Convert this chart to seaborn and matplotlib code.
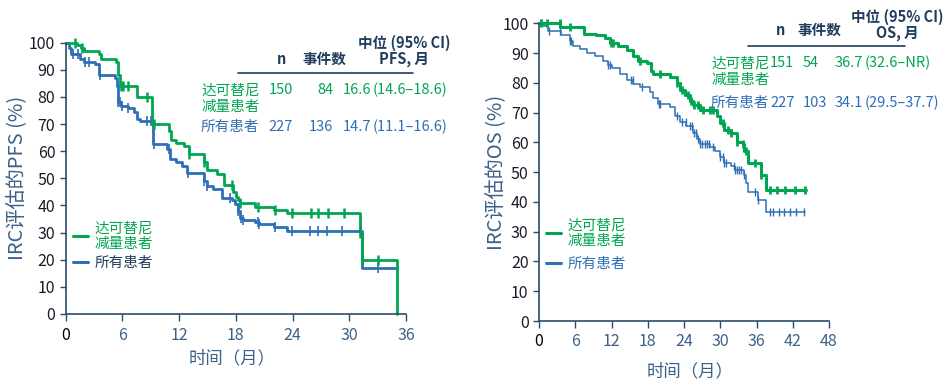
import numpy as np
import pandas as pd
import matplotlib
matplotlib.use("Agg")
import matplotlib.pyplot as plt
from matplotlib.lines import Line2D
import seaborn as sns

sns.set_theme(style="ticks")
plt.rcParams['font.family'] = ['Noto Sans CJK SC', 'DejaVu Sans']

GREEN = '#00A651'
BLUE = '#2E6FB7'
NAVY = '#1F3D5C'
AXC = '#2B4C6B'
SLATE = '#3B6189'

# ---------------- PFS (left) ----------------
pfs_g_t = [0, 1.2, 1.6, 1.9, 3.5, 3.7, 5.3, 5.5, 5.7, 7.5, 9.1, 10.9, 11.1, 11.7, 12.5, 13.0,
           14.6, 14.9, 16.0, 16.7, 17.7, 18.0, 18.2, 18.4, 20.0, 22.0, 23.4, 31.1, 31.3, 35.1]
pfs_g_s = [100, 99, 98, 97, 96, 94, 93, 88, 84, 80, 70, 67.5, 64, 63, 62, 59,
           56, 53, 51.5, 47.5, 45, 43, 42, 41, 39.6, 38.4, 37.4, 30, 20, 0]
pfs_g_cens = [1.0, 1.7, 5.8, 6.1, 6.6, 8.6, 9.3, 13.05, 14.6, 17.6, 18.4, 20.3, 22.1, 23.9,
              25.9, 26.7, 27.8, 29.4, 31.1, 31.3, 33.0]

pfs_b_t = [0, 0.3, 0.6, 1.5, 1.9, 3.1, 3.5, 5.2, 5.4, 5.5, 5.9, 6.6, 7.2, 7.5, 7.9, 9.2, 10.7,
           11.0, 11.7, 12.3, 12.8, 14.6, 14.9, 15.6, 16.5, 17.6, 17.9, 18.2, 18.4, 18.8, 20.0,
           20.4, 22.0, 23.4, 31.3, 35.1]
pfs_b_s = [100, 98, 96, 94, 93, 92, 88, 87, 84, 78, 76.7, 76, 74.5, 72, 71, 62.7, 61,
           57, 56, 54.5, 52, 49, 47, 46, 42.7, 42, 40.5, 38, 35.5, 34.5, 34,
           33, 32, 30.7, 16.8, 16.8]
pfs_b_cens = [0.8, 1.3, 2.0, 2.5, 3.6, 5.5, 5.7, 6.0, 6.6, 8.6, 9.0, 9.3, 10.9, 12.9, 14.6,
              15.0, 17.4, 18.2, 18.5, 18.8, 20.3, 20.5, 22.1, 23.9, 25.8, 26.7, 27.6, 29.2,
              31.2, 33.0]

# ---------------- OS (right) ----------------
os_g_t = [0, 3.5, 7.5, 9.5, 10.9, 11.7, 13.1, 14.5, 15.6, 16.4, 17.8, 18.6, 18.9, 21.7, 22.8,
          23.3, 24.1, 25.0, 25.5, 26.6, 29.4, 29.9, 30.7, 31.8, 32.7, 33.8, 34.0, 34.6, 36.8,
          37.6, 44.2]
os_g_s = [100, 98.7, 96.5, 96, 95, 93.5, 92.5, 91, 89, 87.5, 86.5, 84, 83, 82, 80,
          77.5, 76, 74, 72.5, 71, 69, 66.5, 64, 63, 60, 59.5, 57, 53, 49,
          44, 44]
os_g_cens = [0.4, 1.3, 3.4, 5.1, 11.9, 12.2, 16.7, 20.0, 22.8, 23.6, 24.7, 25.2, 25.7, 26.3,
             27.2, 28.3, 28.8, 30.5, 31.3, 31.8, 32.7, 33.8, 34.3, 35.7, 36.8, 38.2, 39.4,
             40.7, 42.3, 44.1]

os_b_t = [0, 0.4, 1.5, 3.7, 5.1, 5.7, 6.8, 7.9, 9.3, 10.6, 11.5, 12.0, 13.4, 14.5, 15.6, 16.7,
          18.3, 18.9, 19.7, 21.7, 22.5, 23.3, 24.4, 25.5, 26.1, 26.6, 28.3, 29.1, 29.9, 30.7,
          31.8, 32.4, 34.0, 34.3, 34.6, 36.3, 37.5, 44.0]
os_b_s = [100, 99, 97.5, 96, 94, 92.5, 91.5, 90, 89, 87.5, 86, 85, 83, 81, 79.5, 78.5,
          77, 75, 73, 72, 69, 67, 65.5, 63, 61, 59.5, 58.5, 57, 55, 53,
          52, 50.7, 49, 46.5, 43.5, 40.5, 36.5, 36.5]
os_b_cens = [0.3, 1.6, 3.4, 5.1, 5.3, 11.5, 11.7, 15.2, 15.5, 17.0, 19.8, 20.0, 22.9, 23.6,
             24.3, 25.0, 25.3, 25.6, 26.0, 26.3, 26.7, 27.0, 27.4, 27.8, 28.2, 28.8, 30.0,
             30.4, 30.7, 31.0, 32.2, 32.5, 32.8, 33.1, 33.5, 34.0, 35.8, 36.3, 38.2, 38.8,
             39.7, 40.6, 41.6, 42.5, 43.9]

pfs_xticks = [0, 6, 12, 18, 24, 30, 36]
os_xticks = [0, 6, 12, 18, 24, 30, 36, 42, 48]
yticks = [0, 10, 20, 30, 40, 50, 60, 70, 80, 90, 100]

pfs_rows = [["达可替尼", "150", "84", "16.6", "(14.6–18.6)"],
            ["所有患者", "227", "136", "14.7", "(11.1–16.6)"]]
os_rows = [["达可替尼", "151", "54", "36.7", "(32.6–NR)"],
           ["所有患者", "227", "103", "34.1", "(29.5–37.7)"]]

W, H = 950, 384
fig = plt.figure(figsize=(W / 100, H / 100), dpi=100)


def px(x, y):
    return x / W, 1 - y / H


ax1 = fig.add_axes([65.7 / W, 1 - 314 / H, (406 - 65.7) / W, (314 - 42.7) / H])
ax2 = fig.add_axes([539 / W, 1 - 321 / H, (829 - 539) / W, (321 - 23.3) / H])


def surv_at(t, s, c):
    t = np.asarray(t); s = np.asarray(s)
    idx = np.searchsorted(t, np.asarray(c), side='right') - 1
    return s[idx]


def km(ax, t, s, cens, color, lw, mew, ms):
    df = pd.DataFrame({'t': t, 's': s})
    sns.lineplot(data=df, x='t', y='s', drawstyle='steps-post', estimator=None, sort=False,
                 color=color, linewidth=lw, ax=ax, clip_on=False)
    dc = pd.DataFrame({'t': cens, 's': surv_at(t, s, cens)})
    sns.scatterplot(data=dc, x='t', y='s', marker='|', s=ms, color=color, linewidth=mew,
                    ax=ax, clip_on=False, zorder=4)


km(ax1, pfs_b_t, pfs_b_s, pfs_b_cens, BLUE, 2.0, 1.2, 45)
km(ax1, pfs_g_t, pfs_g_s, pfs_g_cens, GREEN, 2.0, 1.8, 45)
km(ax2, os_b_t, os_b_s, os_b_cens, BLUE, 1.1, 1.0, 40)
km(ax2, os_g_t, os_g_s, os_g_cens, GREEN, 2.2, 2.0, 40)

for ax, xt, ylab, ylc, xlc in [(ax1, pfs_xticks, "IRC评估的PFS (%)", (-0.112, 0.5), (0.49, -0.132)),
                               (ax2, os_xticks, "IRC评估的OS (%)", (-0.115, 0.5), (0.52, -0.14))]:
    ax.set_xlim(xt[0], xt[-1])
    ax.set_ylim(0, 100)
    ax.set_xticks(xt)
    ax.set_yticks(yticks)
    ax.set_xticklabels([str(v) for v in xt])
    ax.set_yticklabels([str(v) for v in yticks])
    sns.despine(ax=ax)
    for sp in ['left', 'bottom']:
        ax.spines[sp].set_color(AXC)
        ax.spines[sp].set_linewidth(1.2)
    ax.tick_params(axis='both', colors=AXC, length=4, width=1.0, labelsize=11.5)
    ax.tick_params(axis='x', length=5, pad=4)
    for lab in ax.get_xticklabels()[1:]:
        lab.set_color(SLATE)
    ax.get_xticklabels()[0].set_color('black')
    for lab in ax.get_yticklabels():
        lab.set_color('#1a1a2a')
    ax.set_ylabel(ylab, fontsize=14.5, color=SLATE)
    ax.yaxis.set_label_coords(*ylc)
    ax.set_xlabel("时间（月）", fontsize=12.5, color=SLATE)
    ax.xaxis.set_label_coords(*xlc)

# legends
def legend(ax, anchor, sp, col2):
    h = [Line2D([], [], color=GREEN, lw=2.2), Line2D([], [], color=BLUE, lw=2.2)]
    lg = ax.legend(h, ["达可替尼\n减量患者", "所有患者"], loc='upper left',
                   bbox_to_anchor=px(*anchor), bbox_transform=fig.transFigure,
                   frameon=False, fontsize=10.5, handlelength=1.0, handletextpad=0.5,
                   borderpad=0, borderaxespad=0, labelspacing=sp)
    lg.get_texts()[0].set_color(GREEN)
    lg.get_texts()[1].set_color(col2)

legend(ax1, (73, 221), 0.35, NAVY)
legend(ax2, (546, 218), 0.6, BLUE)

# tables
def t(x, y, s, color, ha='left', weight='normal', size=10.5):
    fig.text(*px(x, y), s, color=color, ha=ha, va='center', fontsize=size, fontweight=weight)

# PFS table
t(282, 59, "n", NAVY, 'center', 'bold')
t(324, 59, "事件数", NAVY, 'center', 'bold')
t(404, 43, "中位 (95% CI)", NAVY, 'center', 'bold')
t(404, 59, "PFS, 月", NAVY, 'center', 'bold')
fig.add_artist(Line2D([238 / W, 413 / W], [1 - 73 / H, 1 - 73 / H], color=NAVY, lw=1.2))
for (name, n, ev, med, ci), y, col in zip(pfs_rows, [90, 127], [GREEN, BLUE]):
    t(201, y, name, col)
    t(293, y, n, col, 'right')
    t(333, y, ev, col, 'right')
    t(371, y, med, col, 'right')
    t(373, y, ci, col)
t(201, 107, "减量患者", GREEN)

# OS table
t(781, 30, "n", NAVY, 'center', 'bold')
t(819, 30, "事件数", NAVY, 'center', 'bold')
t(897, 17, "中位 (95% CI)", NAVY, 'center', 'bold')
t(897, 33, "OS, 月", NAVY, 'center', 'bold')
fig.add_artist(Line2D([748 / W, 905 / W], [1 - 46 / H, 1 - 46 / H], color=NAVY, lw=1.2))
for (name, n, ev, med, ci), y, col in zip(os_rows, [63, 103], [GREEN, BLUE]):
    t(711, y, name, col)
    t(770, y, n, col)
    t(803, y, ev, col)
    t(835, y, med, col)
    t(865, y, ci, col)
t(711, 80, "减量患者", GREEN)

fig.savefig("out.png", dpi=100)
